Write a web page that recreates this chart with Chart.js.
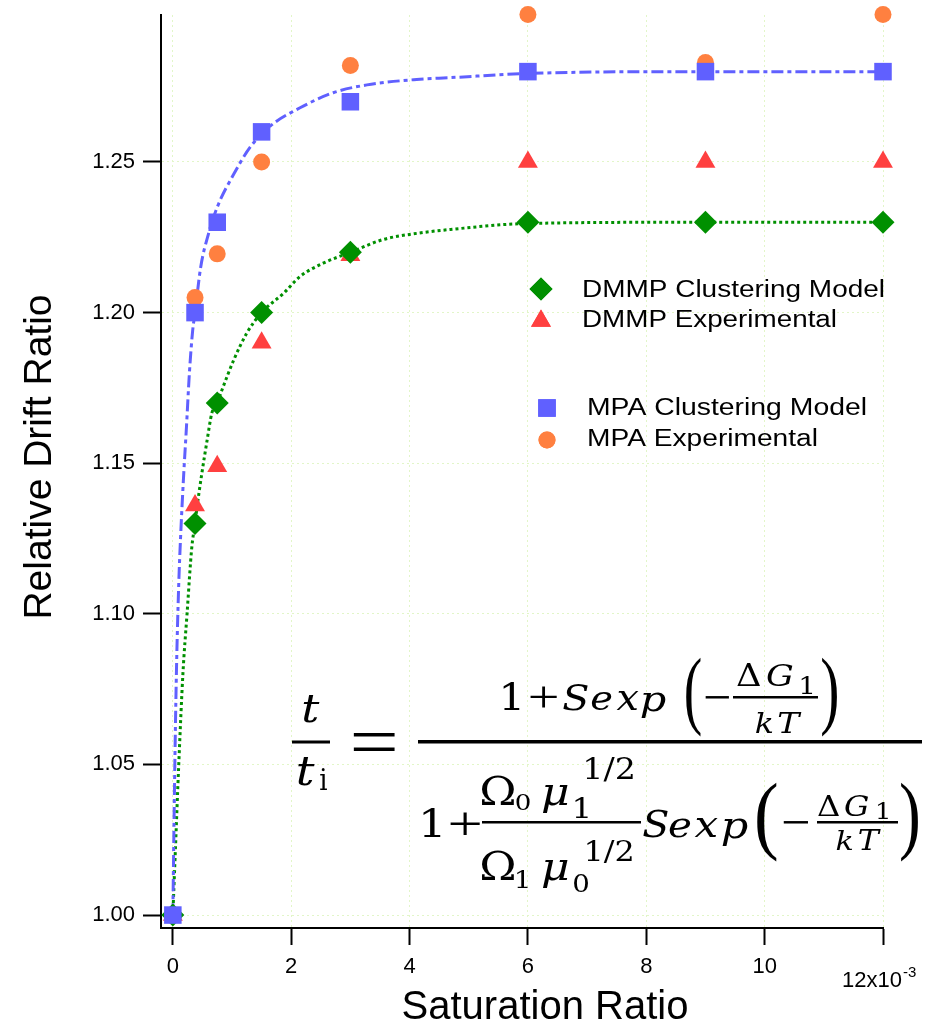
<!DOCTYPE html>
<html>
<head>
<meta charset="utf-8">
<script src="https://cdn.jsdelivr.net/npm/chart.js@4.4.1/dist/chart.umd.min.js"></script>
<style>
  html, body { margin: 0; background: #fff; }
  canvas { display: block; }
</style>
</head>
<body>
<canvas id="chart" width="925" height="1023"></canvas>
<script>
// saturation ratio (x10^-3) and relative drift ratios
const satRatio  = [0, 0.375, 0.75, 1.5, 3, 6, 9, 12];
const mpaModel  = [1.000, 1.200, 1.230, 1.260, 1.270, 1.280, 1.280, 1.280];
const mpaExp    = [1.000, 1.205, 1.2195, 1.250, 1.282, 1.299, 1.283, 1.299];
const dmmpModel = [1.000, 1.130, 1.170, 1.200, 1.220, 1.230, 1.230, 1.230];
const dmmpExp   = [1.000, 1.136, 1.149, 1.190, 1.219, 1.250, 1.250, 1.250];

// fitted curves (traced along the dashed / dotted lines)
const mpaFitX  = [0, 0.03, 0.06, 0.1, 0.13, 0.18, 0.23, 0.28, 0.335, 0.375, 0.47, 0.6, 0.75, 1.03, 1.31, 1.65, 2.15, 2.71, 3.28, 4.12, 4.69, 6, 9, 12];
const mpaFitY  = [1.0, 1.045, 1.08, 1.11, 1.125, 1.145, 1.162, 1.18, 1.194, 1.20, 1.215, 1.226, 1.235, 1.246, 1.255, 1.262, 1.268, 1.273, 1.2756, 1.2774, 1.278, 1.2794, 1.28, 1.28];
const dmmpFitX = [0, 0.04, 0.1, 0.17, 0.24, 0.32, 0.375, 0.41, 0.49, 0.58, 0.66, 0.75, 0.83, 1.03, 1.25, 1.5, 1.87, 2.15, 2.54, 3, 3.56, 4.12, 4.69, 6, 9, 12];
const dmmpFitY = [1.0, 1.02, 1.05, 1.08, 1.10, 1.122, 1.13, 1.1356, 1.1466, 1.1577, 1.1667, 1.17, 1.1743, 1.1843, 1.1932, 1.20, 1.2064, 1.212, 1.2164, 1.22, 1.2243, 1.2263, 1.2276, 1.2296, 1.23, 1.23];

const xTicks = [0, 2, 4, 6, 8, 10, 12];
const yTicks = [1.00, 1.05, 1.10, 1.15, 1.20, 1.25];

const BLUE = 'rgb(96,96,255)';
const ORANGE = 'rgb(255,128,64)';
const RED = 'rgb(255,64,64)';
const GREEN = 'rgb(0,144,0)';
const GRID = 'rgb(226,246,200)';
const SANS = '"Liberation Sans", Arial, sans-serif';
const SERIF = '"Liberation Serif", serif';
const MATH = '"DejaVu Serif", serif';

const pts = (xs, ys) => xs.map((x, i) => ({ x: x, y: ys[i] }));

// scale a glyph so its ink fits the given box (aspect kept within limits)
// kind: 0 upright, 1 italic, 2 upright thin (parens, =, minus, +)
function fit(ctx, str, x0, y0, x1, y1, kind) {
  ctx.save();
  ctx.font = (kind === 1 ? 'italic 100px ' : '100px ') + (kind === 2 ? SERIF : MATH);
  ctx.textAlign = 'left';
  ctx.textBaseline = 'alphabetic';
  const m = ctx.measureText(str);
  const w = m.actualBoundingBoxLeft + m.actualBoundingBoxRight;
  const h = m.actualBoundingBoxAscent + m.actualBoundingBoxDescent;
  const sy = (y1 - y0) / h;
  let sx = (x1 - x0) / w;
  if (kind !== 2) sx = Math.min(Math.max(sx, 0.85 * sy), 1.15 * sy);
  const dx = ((x1 - x0) - w * sx) / 2;
  ctx.translate(x0 + dx, y0);
  ctx.scale(sx, sy);
  ctx.fillText(str, m.actualBoundingBoxLeft, m.actualBoundingBoxAscent);
  ctx.restore();
}

function stretchText(ctx, str, x, y, size, width) {
  ctx.save();
  ctx.font = size + 'px ' + SANS;
  ctx.textAlign = 'left';
  ctx.textBaseline = 'alphabetic';
  const w = ctx.measureText(str).width;
  ctx.translate(x, y);
  ctx.scale(width / w, 1);
  ctx.fillText(str, 0, 0);
  ctx.restore();
}

const overlay = {
  id: 'overlay',
  afterDraw(chart) {
    const ctx = chart.ctx;
    const ds = chart.data.datasets;
    ctx.save();
    ctx.fillStyle = '#000';

    // axis titles
    ctx.font = '40px ' + SANS;
    ctx.textAlign = 'center';
    ctx.textBaseline = 'alphabetic';
    ctx.fillText('Saturation Ratio', 545, 1019);
    ctx.save();
    ctx.translate(51, 457);
    ctx.rotate(-Math.PI / 2);
    ctx.font = '39px ' + SANS;
    ctx.fillText('Relative Drift Ratio', 0, 0);
    ctx.restore();

    // last x tick label with exponent
    ctx.textAlign = 'left';
    ctx.font = '22px ' + SANS;
    ctx.fillText('12x10', 842, 987);
    ctx.font = '15px ' + SANS;
    ctx.fillText('-3', 903, 977);

    // legend, two groups
    const legend = [
      { i: 1, mx: 541, my: 289, tx: 582, ty: 297, w: 303 },
      { i: 2, mx: 541, my: 321, tx: 582, ty: 327, w: 255 },
      { i: 0, mx: 547, my: 408, tx: 587, ty: 415, w: 280 },
      { i: 3, mx: 547, my: 440, tx: 587, ty: 446, w: 231 }
    ];
    legend.forEach(e => {
      const d = ds[e.i];
      ctx.fillStyle = d.backgroundColor;
      Chart.helpers.drawPoint(ctx, { pointStyle: d.pointStyle, radius: d.pointRadius, rotation: 0, borderWidth: 0 }, e.mx, e.my);
      ctx.fill();
      ctx.fillStyle = '#000';
      stretchText(ctx, d.label, e.tx, e.ty, 23, e.w);
    });

    // equation
    ctx.fillStyle = '#000';
    const bars = [[292, 740.5, 330, 743.5], [418, 740, 922, 743.5], [733, 696, 818, 698.5],
                  [482, 821, 641, 823.5], [817, 821, 898, 823.5]];
    bars.forEach(b => ctx.fillRect(b[0], b[1], b[2] - b[0], b[3] - b[1]));
    const eq = [
      ['t', 302, 695, 321, 722, 1], ['t', 296, 757, 317, 785, 1], ['i', 320, 768, 327, 790, 0],
      ['=', 353, 733, 395, 751, 2],
      // numerator
      ['1', 503, 683, 520, 710, 0], ['+', 530, 687, 557, 708, 2],
      ['S', 563, 683, 588, 710, 1], ['e', 590, 692, 613, 710, 1], ['x', 614, 692, 641, 710, 1], ['p', 640, 692, 667, 719, 1],
      ['(', 686, 657, 701, 737, 2], ['\u2212', 705, 695.5, 729, 698.5, 2],
      ['\u0394', 737, 663, 760, 686, 0], ['G', 762, 663, 797, 686, 1], ['1', 800, 676, 814, 694, 0],
      ['k', 752, 712, 776, 733, 1], ['T', 777, 712, 803, 733, 1], [')', 822, 657, 837, 737, 2],
      // denominator
      ['1', 423, 808, 441, 837, 0], ['+', 450, 812, 480, 835, 2],
      ['\u03A9', 481, 776, 515, 805, 0], ['0', 515, 793, 531, 810, 0],
      ['\u03BC', 540, 785, 570, 813, 1], ['1', 575, 797, 588, 818, 0], ['1/2', 582, 758, 637, 782, 0],
      ['\u03A9', 481, 851, 515, 880, 0], ['1', 516, 870, 529, 888, 0],
      ['\u03BC', 540, 860, 570, 888, 1], ['0', 573, 874, 589, 892, 0], ['1/2', 582, 840, 637, 863, 0],
      ['S', 643, 808, 668, 837, 1], ['e', 669, 818, 691, 837, 1], ['x', 692, 818, 720, 837, 1], ['p', 720, 818, 750, 846, 1],
      ['(', 757, 783, 777, 862, 2], ['\u2212', 783, 820.5, 808, 823.5, 2],
      ['\u0394', 818, 795, 839, 816, 0], ['G', 841, 795, 872, 816, 1], ['1', 876, 802, 890, 819, 0],
      ['k', 833, 830, 856, 850, 1], ['T', 857, 830, 883, 850, 1], [')', 901, 783, 918, 862, 2]
    ];
    eq.forEach(p => fit(ctx, p[0], p[1], p[2], p[3], p[4], p[5]));
    ctx.restore();
  }
};

const markerBase = { showLine: false, borderWidth: 0, pointBorderWidth: 0, pointHoverRadius: 0, clip: false };

new Chart(document.getElementById('chart').getContext('2d'), {
  type: 'scatter',
  data: {
    datasets: [
      Object.assign({ label: 'MPA Clustering Model', data: pts(satRatio, mpaModel), pointStyle: 'rect', pointRadius: 12.4, backgroundColor: BLUE }, markerBase),
      Object.assign({ label: 'DMMP Clustering Model', data: pts(satRatio, dmmpModel), pointStyle: 'rectRot', pointRadius: 11.5, backgroundColor: GREEN }, markerBase),
      Object.assign({ label: 'DMMP Experimental', data: pts(satRatio, dmmpExp), pointStyle: 'triangle', pointRadius: 11.5, backgroundColor: RED }, markerBase),
      Object.assign({ label: 'MPA Experimental', data: pts(satRatio, mpaExp), pointStyle: 'circle', pointRadius: 8.5, backgroundColor: ORANGE }, markerBase),
      {
        label: 'MPA fit', data: pts(mpaFitX, mpaFitY), showLine: true, pointRadius: 0,
        borderColor: BLUE, borderWidth: 3, borderDash: [12, 4, 4, 4], cubicInterpolationMode: 'monotone', clip: false
      },
      {
        label: 'DMMP fit', data: pts(dmmpFitX, dmmpFitY), showLine: true, pointRadius: 0,
        borderColor: GREEN, borderWidth: 3, borderDash: [3, 3], cubicInterpolationMode: 'monotone', clip: false
      }
    ]
  },
  options: {
    responsive: false,
    animation: false,
    events: [],
    layout: { padding: { top: 15, right: 42, left: 0, bottom: 0 } },
    plugins: { legend: { display: false }, tooltip: { enabled: false } },
    scales: {
      x: {
        type: 'linear', min: -0.2, max: 12,
        afterBuildTicks: s => { s.ticks = xTicks.map(v => ({ value: v })); },
        afterFit: s => { s.height = 95; s.paddingLeft = 0; s.paddingRight = 0; },
        ticks: { callback: v => (v === 12 ? '' : String(v)), font: { family: SANS, size: 22 }, color: '#000', padding: 9, maxRotation: 0 },
        grid: { color: GRID, lineWidth: 1, tickColor: '#000', tickLength: 17, tickWidth: 2 },
        border: { color: '#000', width: 2, dash: [2, 3] }
      },
      y: {
        type: 'linear', min: 0.9957, max: 1.2988,
        afterBuildTicks: s => { s.ticks = yTicks.map(v => ({ value: v })); },
        afterFit: s => { s.width = 161; s.paddingTop = 0; s.paddingBottom = 0; },
        ticks: { callback: v => v.toFixed(2), font: { family: SANS, size: 22 }, color: '#000', padding: 8 },
        grid: { color: GRID, lineWidth: 1, tickColor: '#000', tickLength: 18, tickWidth: 2 },
        border: { color: '#000', width: 2, dash: [2, 3] }
      }
    }
  },
  plugins: [overlay]
});
</script>
</body>
</html>
